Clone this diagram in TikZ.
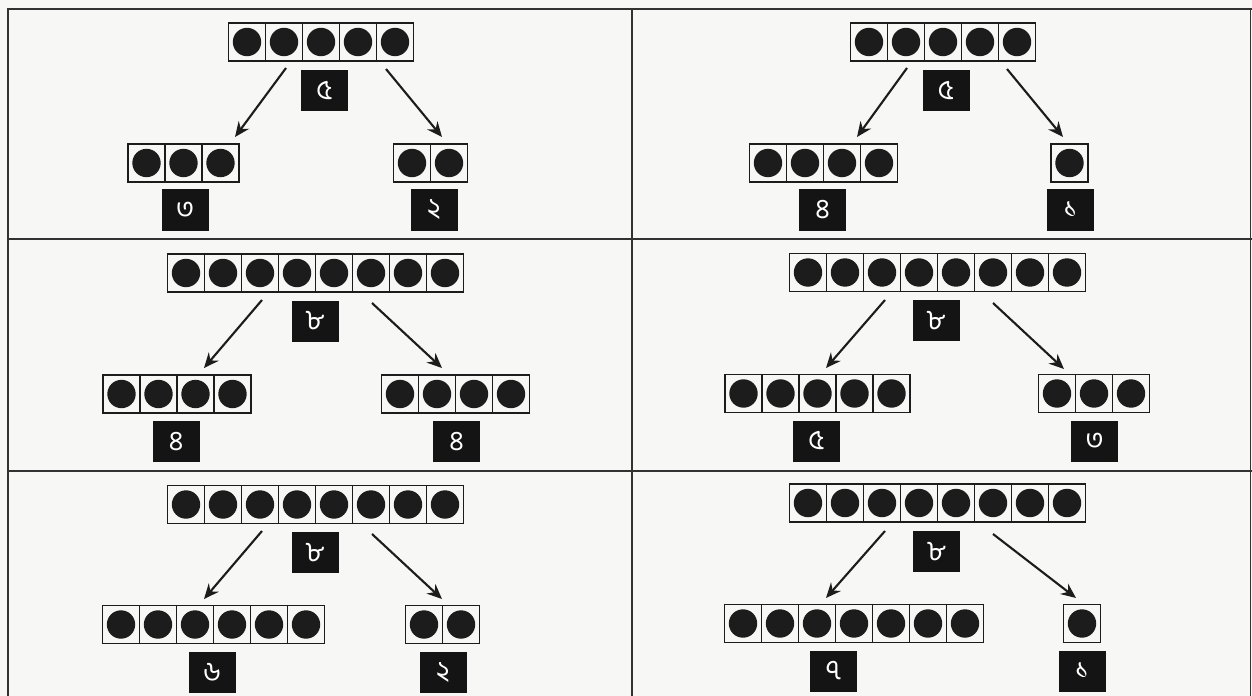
\documentclass[tikz,border=0pt]{standalone}
\usepackage{fontspec}
\newfontfamily\bn[Script=Bengali]{Hind Siliguri}
\usetikzlibrary{calc,arrows.meta}
\definecolor{paper}{RGB}{247,247,245}
\definecolor{ink}{RGB}{28,28,28}
\definecolor{rule}{RGB}{50,50,50}
\tikzset{
  rowbox/.style={draw=ink, line width=1.2bp, minimum height=38bp, inner sep=0pt, outer sep=0pt},
  lab/.style={fill=black!92, text=white, minimum width=47bp, minimum height=41bp, inner sep=0pt,
              font=\bn\fontsize{28}{28}\selectfont},
  arr/.style={draw=ink, line width=2.1bp, -{Stealth[length=15bp,width=13bp,inset=5bp]}},
  frame/.style={draw=rule, line width=1.8bp},
}
\newcommand\dotrow[4]{%
  \node[rowbox, minimum width={#4*37bp}] (#1) at (#2,#3) {};
  \foreach \i in {1,...,#4} {\fill[ink] ($(#1.west)+(\i*37-18.5,0)$) circle[radius=14.2];}
  \ifnum#4>1
    \pgfmathtruncatemacro\lastdiv{#4-1}%
    \foreach \i in {1,...,\lastdiv} {\draw[ink, line width=1.1bp] ($(#1.north west)+(\i*37,0)$) -- ($(#1.south west)+(\i*37,0)$);}
  \fi
}
\begin{document}
\begin{tikzpicture}[x=1bp,y=-1bp]
\fill[paper] (0,0) rectangle (1252,696);
\useasboundingbox (0,0) rectangle (1252,696);
% frame
\draw[frame] (8,696) -- (8,9) -- (1252,9);
\draw[frame] (8,239) -- (1252,239);
\draw[frame] (8,471) -- (1252,471);
\draw[frame] (632,9) -- (632,696);
\draw[draw=rule, line width=1bp] (1250,9) -- (1250,696);

% ---- Panel 1 (top left)
\dotrow{pa}{321}{42}{5}
\node[lab] (la) at (324.5,90.5) {৫};
\dotrow{pal}{183.5}{163}{3}
\node[lab] (lal) at (185,210) {৩};
\dotrow{par}{430.5}{163}{2}
\node[lab] (lar) at (434,210) {২};
\coordinate (a1s) at (286,68); \coordinate (a1e) at (235,137);
\coordinate (a2s) at (386,69); \coordinate (a2e) at (442,137);
\draw[arr] (a1s) -- (a1e);
\draw[arr] (a2s) -- (a2e);

% ---- Panel 2 (top right)
\dotrow{pb}{943}{42}{5}
\node[lab] (lb) at (946,90.5) {৫};
\dotrow{pbl}{823.5}{163}{4}
\node[lab] (lbl) at (822.5,210) {৪};
\dotrow{pbr}{1069.5}{163}{1}
\node[lab] (lbr) at (1070.5,210) {১};
\coordinate (b1s) at (907,68); \coordinate (b1e) at (857,137);
\coordinate (b2s) at (1007,69); \coordinate (b2e) at (1063,137);
\draw[arr] (b1s) -- (b1e);
\draw[arr] (b2s) -- (b2e);

% ---- Panel 3 (middle left)
\dotrow{pc}{315.5}{273}{8}
\node[lab] (lc) at (315,321) {৮};
\dotrow{pcl}{177}{394}{4}
\node[lab] (lcl) at (176,441.5) {৪};
\dotrow{pcr}{455.5}{394}{4}
\node[lab] (lcr) at (456.5,441.5) {৪};
\coordinate (c1s) at (262,300); \coordinate (c1e) at (204,368);
\coordinate (c2s) at (372,303); \coordinate (c2e) at (442,368);
\draw[arr] (c1s) -- (c1e);
\draw[arr] (c2s) -- (c2e);

% ---- Panel 4 (middle right)
\dotrow{pd}{937.5}{272.5}{8}
\node[lab] (ld) at (936,320.5) {৮};
\dotrow{pdl}{817.5}{393.5}{5}
\node[lab] (ldl) at (816.5,441) {৫};
\dotrow{pdr}{1094}{393.5}{3}
\node[lab] (ldr) at (1094.5,441) {৩};
\coordinate (d1s) at (885,300); \coordinate (d1e) at (826,368);
\coordinate (d2s) at (993,303); \coordinate (d2e) at (1064,369);
\draw[arr] (d1s) -- (d1e);
\draw[arr] (d2s) -- (d2e);

% ---- Panel 5 (bottom left)
\dotrow{pe}{315.5}{504.5}{8}
\node[lab] (le) at (315,552.5) {৮};
\dotrow{pel}{213.5}{624.5}{6}
\node[lab] (lel) at (212,672.5) {৬};
\dotrow{per}{442.5}{624.5}{2}
\node[lab] (ler) at (443,672.5) {২};
\coordinate (e1s) at (262,531); \coordinate (e1e) at (204,599);
\coordinate (e2s) at (372,534); \coordinate (e2e) at (442,599);
\draw[arr] (e1s) -- (e1e);
\draw[arr] (e2s) -- (e2e);

% ---- Panel 6 (bottom right)
\dotrow{pf}{937.5}{503}{8}
\node[lab] (lf) at (936.5,551.5) {৮};
\dotrow{pfl}{854}{623.5}{7}
\node[lab] (lfl) at (833.5,671) {৭};
\dotrow{pfr}{1082}{623.5}{1}
\node[lab] (lfr) at (1082,671) {১};
\coordinate (f1s) at (885,531); \coordinate (f1e) at (826,598);
\coordinate (f2s) at (993,534); \coordinate (f2e) at (1076,598);
\draw[arr] (f1s) -- (f1e);
\draw[arr] (f2s) -- (f2e);
\end{tikzpicture}
\end{document}
